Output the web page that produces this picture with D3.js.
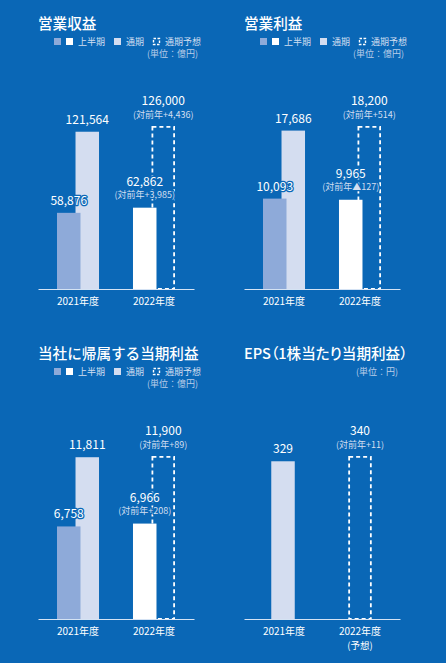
<!DOCTYPE html>
<html><head><meta charset="utf-8">
<script src="https://cdn.jsdelivr.net/npm/d3@7/dist/d3.min.js"></script>
<style>
html,body{margin:0;padding:0;background:#0a67b6;}
svg{display:block;}
text{font-family:"Noto Sans CJK JP","Noto Sans",sans-serif;}
.ttl{font-feature-settings:"palt";}
</style></head>
<body>
<svg id="chart" width="446" height="663"></svg>
<script>
// ---- data ----
const categories = ["2021年度", "2022年度"];
const titles = ["営業収益", "営業利益", "当社に帰属する当期利益", "EPS（1株当たり当期利益）"];
const unitLabels = ["(単位：億円)", "(単位：億円)", "(単位：億円)", "(単位：円)"];
const firstHalf = [[58876, 62862], [10093, 9965], [6758, 6966], [null, null]];
const fullYear = [[121564, null], [17686, null], [11811, null], [329, null]];
const forecast = [126000, 18200, 11900, 340];
const firstHalfDiff = ["+3,985", "▲127", "+208", null];
const forecastDiff = ["+4,436", "+514", "+89", "+11"];
const showLegend = [true, true, true, false];
const legendLabels = ["上半期", "通期", "通期予想"];

// ---- style ----
const BG = "#0a67b6";
const C_H1_PREV = "#8eaad9";
const C_H1_CUR = "#ffffff";
const C_FULL = "#d4ddf0";
const fmt = d3.format(",");

const svg = d3.select("#chart");
svg.append("rect").attr("width", 446).attr("height", 663).attr("fill", BG);

const offsets = [[0, 0], [206, 0], [0, 330], [206, 330]];

titles.forEach((title, i) => {
  const g = svg.append("g").attr("transform", `translate(${offsets[i][0]},${offsets[i][1]})`);

  g.append("text").attr("x", 38).attr("y", 29).attr("fill", "#fff")
    .attr("class", i === 3 ? "ttl" : null)
    .attr("font-size", 14.6).attr("font-weight", 500).text(title);

  if (showLegend[i]) {
    const lg = g.append("g");
    lg.append("rect").attr("x", 54).attr("y", 38).attr("width", 7).attr("height", 7).attr("fill", C_H1_PREV);
    lg.append("rect").attr("x", 66).attr("y", 38).attr("width", 7).attr("height", 7).attr("fill", C_H1_CUR);
    lg.append("text").attr("x", 78).attr("y", 45).text(legendLabels[0]);
    lg.append("rect").attr("x", 114).attr("y", 38).attr("width", 7).attr("height", 7).attr("fill", C_FULL);
    lg.append("text").attr("x", 126).attr("y", 45).text(legendLabels[1]);
    lg.append("rect").attr("x", 153.5).attr("y", 38.5).attr("width", 6).attr("height", 6)
      .attr("fill", "none").attr("stroke", "#fff").attr("stroke-width", 1.4).attr("stroke-dasharray", "2.5,1.5");
    lg.append("text").attr("x", 165).attr("y", 45).text(legendLabels[2]);
    lg.selectAll("text").attr("font-size", 9).attr("fill", "#d3dff1");
    g.append("text").attr("x", 198).attr("y", 57).attr("text-anchor", "end")
      .attr("font-size", 9).attr("fill", "#b9cde9").text(unitLabels[i]);
  } else {
    g.append("text").attr("x", 192).attr("y", 45).attr("text-anchor", "end")
      .attr("font-size", 9).attr("fill", "#b9cde9").text(unitLabels[i]);
  }

  const x = d3.scaleBand().domain(categories).range([38, 194]).paddingInner(0.447).paddingOuter(0.25);
  const y = d3.scaleLinear().domain([0, forecast[i]]).range([289, 126]);
  const bw = x.bandwidth();
  const barW = 23.5;
  const single = firstHalf[i].every(v => v == null);

  const fx = single ? x(categories[1]) + bw / 2 - barW / 2 : x(categories[1]) + bw - barW;
  const fullX = single ? x(categories[0]) + bw / 2 - barW / 2 - 1 : x(categories[0]) + bw - barW;

  if (fullYear[i][0] != null) {
    g.append("rect").attr("x", fullX).attr("y", y(fullYear[i][0]))
      .attr("width", barW).attr("height", y(0) - y(fullYear[i][0])).attr("fill", C_FULL);
  }
  g.append("rect").attr("x", fx + 0.9).attr("y", y(forecast[i]) + 0.9)
    .attr("width", barW - 1.8).attr("height", y(0) - y(forecast[i]) - 0.9)
    .attr("fill", "none").attr("stroke", "#fff").attr("stroke-width", 1.8).attr("stroke-dasharray", "4,3");

  categories.forEach((c, j) => {
    const v = firstHalf[i][j];
    if (v == null) return;
    g.append("rect").attr("x", x(c)).attr("y", y(v)).attr("width", barW).attr("height", y(0) - y(v))
      .attr("fill", j === 0 ? C_H1_PREV : C_H1_CUR);
  });

  // axis
  const ax = g.append("g").attr("transform", "translate(0,289)")
    .call(d3.axisBottom(x).tickSize(0).tickPadding(9));
  ax.select(".domain").attr("stroke", "#d5e3f4").attr("stroke-width", 1);
  ax.selectAll("text").attr("font-size", 10).attr("fill", "#fff")
    .attr("font-family", '"Noto Sans CJK JP", sans-serif');
  if (single) {
    g.append("text").attr("x", x(categories[1]) + bw / 2).attr("y", 318.5)
      .attr("text-anchor", "middle").attr("font-size", 9.5).attr("fill", "#fff").text("(予想)");
  }

  // labels
  const label = (lx, ly, txt, size, fill) => g.append("text").attr("x", lx).attr("y", ly)
    .attr("text-anchor", "middle").attr("font-size", size).attr("fill", fill)
    .attr("stroke", BG).attr("stroke-width", 2.5).attr("paint-order", "stroke").attr("stroke-linejoin", "round")
    .text(txt);

  if (fullYear[i][0] != null) {
    label(fullX + barW / 2, y(fullYear[i][0]) - 8, fmt(fullYear[i][0]), 12, "#fff");
  }
  if (firstHalf[i][0] != null) {
    label(x(categories[0]) + barW / 2, y(firstHalf[i][0]) - 8, fmt(firstHalf[i][0]), 12, "#fff");
  }
  if (firstHalf[i][1] != null) {
    const cx = x(categories[1]) + barW / 2;
    label(cx, y(firstHalf[i][1]) - 22, fmt(firstHalf[i][1]), 12, "#fff");
    label(cx, y(firstHalf[i][1]) - 9.5, "(対前年" + firstHalfDiff[i] + ")", 9, "#d3dff1");
  }
  label(fx + barW / 2, y(forecast[i]) - 21, fmt(forecast[i]), 12, "#fff");
  label(fx + barW / 2, y(forecast[i]) - 8.5, "(対前年" + forecastDiff[i] + ")", 9, "#d3dff1");
});
</script>
</body></html>
